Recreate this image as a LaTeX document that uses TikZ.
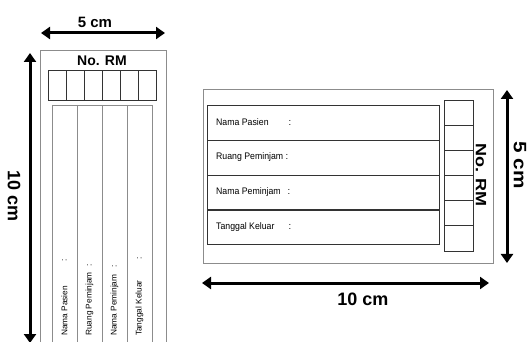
\documentclass[tikz,border=0pt]{standalone}
\usepackage{fontspec}
\setmainfont{Liberation Sans}
\usetikzlibrary{arrows.meta}
\definecolor{FrameClr}{rgb}{0.55,0.55,0.55}
\definecolor{CellClr}{rgb}{0.2,0.2,0.2}

\begin{document}
\begin{tikzpicture}[x=1pt,y=-1pt,
  frame/.style={draw=FrameClr,line width=0.9pt},
  cell/.style={draw=CellClr,line width=0.9pt},
  dimline/.style={line width=3pt,{Triangle[length=9pt,width=12pt]}-{Triangle[length=9pt,width=12pt]}},
  dimtext/.style={font=\fontsize{18}{18}\selectfont\bfseries},
  rmtext/.style={font=\fontsize{14}{14}\selectfont\bfseries},
  field/.style={font=\fontsize{9.5}{9.5}\selectfont,inner sep=0pt},
  sfield/.style={font=\fontsize{8.3}{8.3}\selectfont,inner sep=0pt}]
\useasboundingbox (0,0) rectangle (528,342);

% kartu tegak
\draw[frame] (40,50) rectangle (166,350);
\node[rmtext] (rmA) at (102,61) {No. RM};
\foreach \i in {0,...,5}
  \draw[cell] ({48+18*\i},70) rectangle ({66+18*\i},100);
\draw[frame] (52,105) -- (152,105);
\foreach \x in {52,77,102,127,152}
  \draw[frame] (\x,105) -- (\x,350);
\foreach \i/\txt/\c in {0/Nama Pasien/260,1/Ruang Peminjam/265,2/Nama Peminjam/266,3/Tanggal Keluar/258}{
  \node[sfield,rotate=90,anchor=west] (colA\i) at ({64.5+25*\i},336) {\txt};
  \node[sfield,rotate=90] (dotA\i) at ({64.5+25*\i},\c) {:};
}

% ukuran kartu tegak
\coordinate (topL) at (41,33);
\coordinate (topR) at (165,33);
\draw[dimline] (topL) -- (topR);
\node[font=\fontsize{15}{15}\selectfont\bfseries] (wA) at (95,22) {5 cm};
\coordinate (sideT) at (30,53);
\coordinate (sideB) at (30,343);
\draw[dimline] (sideT) -- (sideB);
\node[dimtext,rotate=-90] (hA) at (14,196) {10 cm};

% kartu mendatar
\draw[frame] (203,89) rectangle (493,263);
\foreach \y in {105,140,175,209}
  \draw[cell] (207,\y) rectangle (439,\y+35);
\foreach \i/\txt/\c in {0/Nama Pasien/290,1/Ruang Peminjam/287,2/Nama Peminjam/289,3/Tanggal Keluar/290}{
  \node[field,anchor=west,xscale=.92] (colB\i) at (216,{122.5+34.8*\i}) {\txt};
  \node[field] (dotB\i) at (\c,{122.5+34.8*\i}) {:};
}
\foreach \i in {0,...,5}
  \draw[cell] (444,{100+25.17*\i}) rectangle (473,{100+25.17*(\i+1)});
\node[font=\fontsize{15}{15}\selectfont\bfseries,rotate=-90,xscale=1.2] (rmB) at (481,175) {No. RM};

% ukuran kartu mendatar
\coordinate (rightT) at (507,90);
\coordinate (rightB) at (507,263);
\draw[dimline] (rightT) -- (rightB);
\node[dimtext,rotate=-90,xscale=1.15] (hB) at (520,165) {5 cm};
\coordinate (botL) at (202,283);
\coordinate (botR) at (489,283);
\draw[dimline] (botL) -- (botR);
\node[dimtext] (wB) at (363,299) {10 cm};

\end{tikzpicture}
\end{document}
